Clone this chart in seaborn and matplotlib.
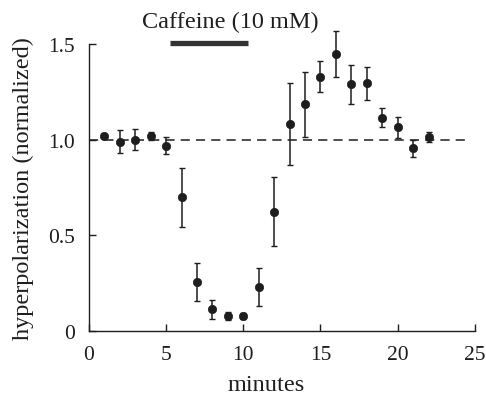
import matplotlib
matplotlib.use("Agg")
import matplotlib.pyplot as plt
import seaborn as sns
import pandas as pd

# Normalized hyperpolarization over time, mean and error per minute
minutes = [1, 2, 3, 4, 5, 6, 7, 8, 9, 10, 11, 12, 13, 14, 15, 16, 17, 18, 19, 20, 21, 22]
hyperpolarization = [1.02, 0.99, 1.00, 1.02, 0.97, 0.70, 0.255, 0.115, 0.08, 0.08, 0.23, 0.625,
                     1.085, 1.185, 1.33, 1.45, 1.29, 1.295, 1.115, 1.065, 0.955, 1.015]
error = [0.012, 0.06, 0.055, 0.02, 0.045, 0.155, 0.10, 0.05, 0.02, 0.015, 0.10, 0.18,
         0.215, 0.17, 0.08, 0.12, 0.10, 0.085, 0.05, 0.055, 0.045, 0.025]

# Caffeine application window (minutes)
caffeine_start, caffeine_end = 5.25, 10.3
caffeine_label = "Caffeine (10 mM)"
baseline = 1.0

x_ticks = [0, 5, 10, 15, 20, 25]
y_ticks = [0, 0.5, 1.0, 1.5]
y_tick_labels = ["0", "0.5", "1.0", "1.5"]

df = pd.DataFrame({"minutes": minutes, "hyperpolarization": hyperpolarization, "error": error})

sns.set_theme(style="ticks")
plt.rcParams["font.family"] = ["Liberation Serif", "DejaVu Serif"]

fig = plt.figure(figsize=(4.86, 4.02), dpi=100)
ax = fig.add_axes([0.183, 0.174, 0.794, 0.818])

ink = "#1e1e1e"
y_top = 1.72

# baseline reference
ax.hlines(baseline, 0, 24.7, colors=ink, linestyles=(0, (6, 4)), linewidth=1.1, zorder=1)

ax.errorbar(df["minutes"], df["hyperpolarization"], yerr=df["error"], fmt="none",
            ecolor=ink, elinewidth=1.1, capsize=2.2, capthick=1.0, zorder=2)
sns.scatterplot(data=df, x="minutes", y="hyperpolarization", ax=ax, color=ink,
                s=36, edgecolor=ink, linewidth=0.5, zorder=3, legend=False)

# caffeine bar and label
ax.hlines(1.505, caffeine_start, caffeine_end, colors="#333333", linewidth=3.8, zorder=2)
ax.text(9.13, 1.59, caffeine_label, ha="center", va="baseline", fontsize=17.5, color=ink)

ax.set_xlim(0, 25)
ax.set_ylim(0, y_top)
ax.set_xticks(x_ticks)
ax.set_xticklabels([str(t) for t in x_ticks])
ax.set_yticks(y_ticks)
ax.set_yticklabels(y_tick_labels)
ax.tick_params(direction="in", length=5, width=1, colors=ink, labelsize=15.5, pad=10)

for side in ("top", "right"):
    ax.spines[side].set_visible(False)
ax.spines["left"].set_bounds(0, 1.5)
for side in ("left", "bottom"):
    ax.spines[side].set_color(ink)
    ax.spines[side].set_linewidth(1.0)

ax.set_xlabel("minutes", fontsize=17.5, color=ink, labelpad=7, x=0.46)
ax.set_ylabel("hyperpolarization (normalized)", fontsize=17.5, color=ink, labelpad=10,
              y=0.75 / y_top)

fig.savefig("out.png", dpi=100, facecolor="white")
